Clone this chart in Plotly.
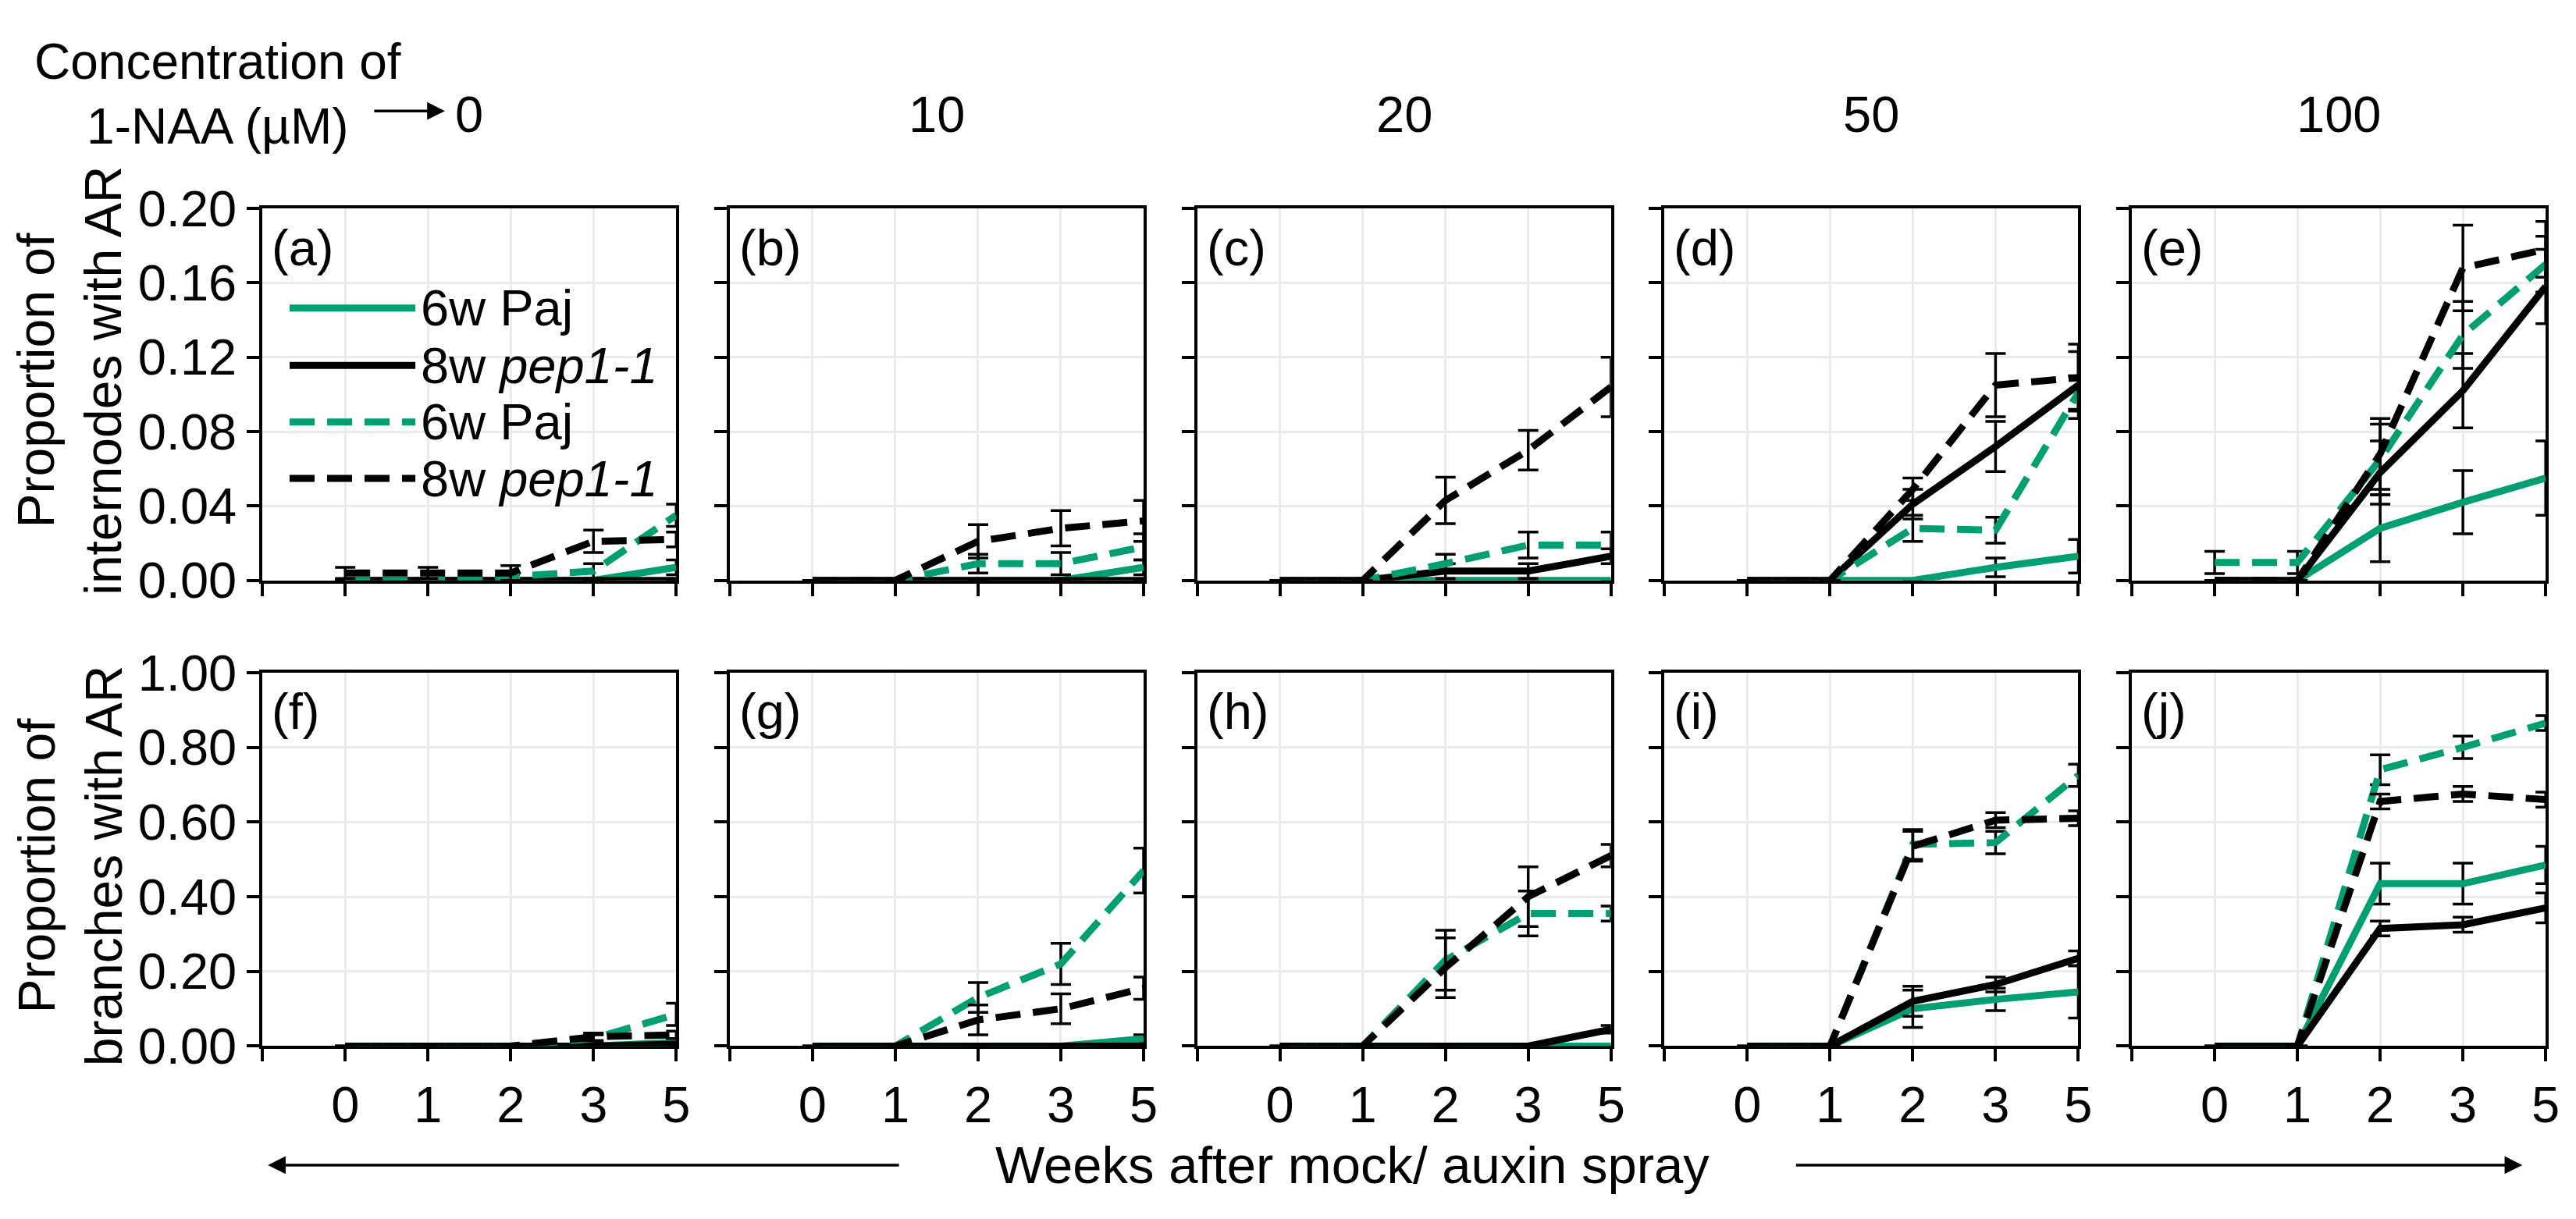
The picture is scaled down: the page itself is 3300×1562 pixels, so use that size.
import plotly.graph_objects as go

W, H = 3300, 1562

# ---------------- data ----------------
weeks = ["0", "1", "2", "3", "5"]
concentrations = ["0", "10", "20", "50", "100"]
panel_letters = ["a", "b", "c", "d", "e", "f", "g", "h", "i", "j"]
series_names = ["6w Paj", "8w <i>pep1-1</i>", "6w Paj", "8w <i>pep1-1</i>"]

# Proportion of internodes with AR (one list per concentration 0,10,20,50,100)
int_paj_solid = [[0, 0, 0, 0, 0.007], [0, 0, 0, 0, 0.007], [0, 0, 0, 0, 0],
                 [0, 0, 0, 0.007, 0.013], [0, 0, 0.028, 0.042, 0.055]]
int_pep_solid = [[0, 0, 0, 0, 0], [0, 0, 0, 0, 0], [0, 0, 0.005, 0.005, 0.013],
                 [0, 0, 0.041, 0.072, 0.105], [0, 0, 0.058, 0.102, 0.158]]
int_paj_dash = [[0, 0, 0.002, 0.005, 0.035], [0, 0, 0.009, 0.009, 0.018], [0, 0, 0.009, 0.019, 0.019],
                [0, 0, 0.028, 0.027, 0.101], [0.0096, 0.0096, 0.065, 0.132, 0.170]]
int_pep_dash = [[0.004, 0.004, 0.004, 0.021, 0.022], [0, 0, 0.021, 0.028, 0.032], [0, 0, 0.043, 0.070, 0.104],
                [0, 0, 0.049, 0.105, 0.109], [0, 0, 0.068, 0.168, 0.178]]

int_paj_solid_err = [[0, 0, 0, 0, 0.004], [0, 0, 0, 0, 0.004], [0, 0, 0, 0, 0],
                     [0, 0, 0, 0.005, 0.009], [0, 0, 0.018, 0.017, 0.020]]
int_pep_solid_err = [[0, 0, 0, 0, 0], [0, 0, 0, 0, 0], [0, 0, 0.004, 0.004, 0.004],
                     [0, 0, 0.008, 0.0135, 0.018], [0, 0, 0.017, 0.020, 0.020]]
int_paj_dash_err = [[0, 0, 0.002, 0.004, 0.006], [0, 0, 0.005, 0.006, 0.007], [0, 0, 0.005, 0.007, 0.007],
                    [0, 0, 0.007, 0.007, 0.009], [0.006, 0.006, 0.019, 0.018, 0.015]]
int_pep_dash_err = [[0.003, 0.003, 0.004, 0.006, 0.004], [0, 0, 0.009, 0.0095, 0.011], [0, 0, 0.0125, 0.0106, 0.016],
                    [0, 0, 0.006, 0.017, 0.018], [0, 0, 0.019, 0.023, 0.015]]

# Proportion of branches with AR
br_paj_solid = [[0, 0, 0, 0, 0.01], [0, 0, 0, 0, 0.02], [0, 0, 0, 0, 0],
                [0, 0, 0.10, 0.125, 0.145], [0, 0, 0.435, 0.435, 0.485]]
br_pep_solid = [[0, 0, 0, 0, 0.005], [0, 0, 0, 0, 0], [0, 0, 0, 0, 0.045],
                [0, 0, 0.12, 0.165, 0.235], [0, 0, 0.315, 0.325, 0.37]]
br_paj_dash = [[0, 0, 0, 0.02, 0.085], [0, 0, 0.13, 0.22, 0.47], [0, 0, 0.23, 0.355, 0.355],
               [0, 0, 0.54, 0.545, 0.725], [0, 0, 0.74, 0.80, 0.865]]
br_pep_dash = [[0, 0, 0, 0.025, 0.03], [0, 0, 0.07, 0.10, 0.155], [0, 0, 0.21, 0.40, 0.51],
               [0, 0, 0.535, 0.605, 0.61], [0, 0, 0.655, 0.675, 0.66]]

br_paj_solid_err = [[0, 0, 0, 0, 0.01], [0, 0, 0, 0, 0.01], [0, 0, 0, 0, 0],
                    [0, 0, 0.05, 0.03, 0.07], [0, 0, 0.055, 0.055, 0.05]]
br_pep_solid_err = [[0, 0, 0, 0, 0], [0, 0, 0, 0, 0], [0, 0, 0, 0, 0.01],
                    [0, 0, 0.04, 0.02, 0.02], [0, 0, 0.02, 0.02, 0.04]]
br_paj_dash_err = [[0, 0, 0, 0.01, 0.03], [0, 0, 0.04, 0.055, 0.06], [0, 0, 0.08, 0.06, 0.02],
                   [0, 0, 0.04, 0.03, 0.03], [0, 0, 0.04, 0.03, 0.02]]
br_pep_dash_err = [[0, 0, 0, 0.01, 0.01], [0, 0, 0.04, 0.04, 0.03], [0, 0, 0.08, 0.08, 0.03],
                   [0, 0, 0.04, 0.02, 0.02], [0, 0, 0.02, 0.02, 0.02]]

int_ticks = [0, 0.04, 0.08, 0.12, 0.16, 0.20]
br_ticks = [0, 0.2, 0.4, 0.6, 0.8, 1.0]

# ---------------- styling / layout ----------------
GREEN = "#009E73"
BLACK = "#000000"
FONT = "Liberation Sans, Arial, sans-serif"
FS = 65
DASH = "32px,16px"
LW = 9
styles = [dict(color=GREEN, dash="solid"), dict(color=BLACK, dash="solid"),
          dict(color=GREEN, dash=DASH), dict(color=BLACK, dash=DASH)]

panel_left = [330 + 602 * i for i in range(5)]
panel_w = 533
row_top = [234, 858]
row_h = [500, 502]

def px_x(p):
    return p / W

def px_y(p):
    return 1 - p / H

fig = go.Figure()

row_data = [
    ([int_paj_solid, int_pep_solid, int_paj_dash, int_pep_dash],
     [int_paj_solid_err, int_pep_solid_err, int_paj_dash_err, int_pep_dash_err]),
    ([br_paj_solid, br_pep_solid, br_paj_dash, br_pep_dash],
     [br_paj_solid_err, br_pep_solid_err, br_paj_dash_err, br_pep_dash_err]),
]

xpos = list(range(len(weeks)))
layout_axes = {}
annotations = []

for r in range(2):
    vals_list, errs_list = row_data[r]
    for c in range(5):
        k = r * 5 + c
        n = k + 1
        xa = "x" if n == 1 else f"x{n}"
        ya = "y" if n == 1 else f"y{n}"
        for s in range(4):
            vals = vals_list[s][c]
            errs = [e if e > 0 else None for e in errs_list[s][c]]
            fig.add_trace(go.Scatter(
                x=xpos, y=vals, mode="lines", xaxis=xa, yaxis=ya,
                name=series_names[s], showlegend=False, cliponaxis=False,
                line=dict(color=styles[s]["color"], width=LW, dash=styles[s]["dash"]),
                error_y=dict(type="data", array=errs, color="black", thickness=3.5, width=13, visible=True),
            ))
        ticks = int_ticks if r == 0 else br_ticks
        layout_axes["xaxis" if n == 1 else f"xaxis{n}"] = dict(
            domain=[px_x(panel_left[c]), px_x(panel_left[c] + panel_w)],
            anchor=ya, range=[-1, len(weeks) - 1],
            tickmode="array", tickvals=[-1] + xpos, ticktext=[""] + weeks,
            showticklabels=(r == 1), ticks="outside", ticklen=16, tickwidth=4, tickcolor="black",
            showline=True, linewidth=4, linecolor="black", mirror=True,
            showgrid=True, gridcolor="#ebebeb", gridwidth=3, zeroline=False,
            layer="below traces", tickfont=dict(family=FONT, size=FS, color="black"),
            fixedrange=True,
        )
        layout_axes["yaxis" if n == 1 else f"yaxis{n}"] = dict(
            domain=[px_y(row_top[r] + row_h[r]), px_y(row_top[r])],
            anchor=xa, range=[ticks[0], ticks[-1]],
            tickmode="array", tickvals=ticks, tickformat=".2f",
            showticklabels=(c == 0), ticks="outside", ticklen=16, tickwidth=4, tickcolor="black",
            showline=True, linewidth=4, linecolor="black", mirror=True,
            showgrid=True, gridcolor="#ebebeb", gridwidth=3, zeroline=False,
            layer="below traces", tickfont=dict(family=FONT, size=FS, color="black"),
            fixedrange=True,
        )
        annotations.append(dict(
            text=f"({panel_letters[k]})", xref="paper", yref="paper",
            x=px_x(panel_left[c] + 10), y=px_y(row_top[r] + 12),
            xanchor="left", yanchor="top", showarrow=False,
            font=dict(family=FONT, size=FS, color="black")))

# concentration headers
for c in range(5):
    annotations.append(dict(
        text=concentrations[c], xref="paper", yref="paper",
        x=px_x(panel_left[c] + panel_w / 2), y=px_y(108), xanchor="center", yanchor="middle",
        showarrow=False, font=dict(family=FONT, size=FS, color="black")))

annotations.append(dict(
    text="Concentration of<br>1-NAA (\u00b5M)", xref="paper", yref="paper",
    x=px_x(272), y=px_y(80), xanchor="center", yanchor="middle", align="center",
    showarrow=False, font=dict(family=FONT, size=64, color="black")))


def arrow(head_x, tail_x, y):
    return dict(text="", xref="paper", yref="paper", x=px_x(head_x), y=px_y(y),
                ax=tail_x - head_x, ay=0, axref="pixel", ayref="pixel",
                showarrow=True, arrowhead=2, arrowsize=1.3, arrowwidth=3.5, arrowcolor="black")


annotations.append(arrow(565, 473, 103))

# y titles
annotations.append(dict(
    text="Proportion of<br>internodes with AR", xref="paper", yref="paper",
    x=px_x(82), y=px_y(466), xanchor="center", yanchor="middle", textangle=-90,
    showarrow=False, font=dict(family=FONT, size=66, color="black")))
annotations.append(dict(
    text="Proportion of<br>branches with AR", xref="paper", yref="paper",
    x=px_x(82), y=px_y(1118), xanchor="center", yanchor="middle", textangle=-90,
    showarrow=False, font=dict(family=FONT, size=66, color="black")))

# bottom label with arrows
BOT_Y = 1520
annotations.append(dict(
    text="Weeks after mock/ auxin spray", xref="paper", yref="paper",
    x=px_x(1734), y=px_y(BOT_Y), xanchor="center", yanchor="middle",
    showarrow=False, font=dict(family=FONT, size=67, color="black")))
annotations.append(arrow(337, 1147, BOT_Y))
annotations.append(arrow(3241, 2309, BOT_Y))

# legend (drawn inside panel a)
shapes = []
leg_rows = [368, 445, 521, 597]
for s in range(4):
    shapes.append(dict(type="line", xref="paper", yref="paper",
                       x0=px_x(365), x1=px_x(527), y0=px_y(leg_rows[s]), y1=px_y(leg_rows[s]),
                       line=dict(color=styles[s]["color"], width=LW, dash=styles[s]["dash"])))
    annotations.append(dict(
        text=series_names[s], xref="paper", yref="paper",
        x=px_x(532), y=px_y(leg_rows[s]), xanchor="left", yanchor="middle",
        showarrow=False, font=dict(family=FONT, size=FS, color="black")))

fig.update_layout(
    width=W, height=H, margin=dict(l=0, r=0, t=0, b=0),
    paper_bgcolor="white", plot_bgcolor="white",
    showlegend=False, annotations=annotations, shapes=shapes,
    font=dict(family=FONT, size=FS, color="black"),
    **layout_axes,
)

fig.write_html("out.html")
